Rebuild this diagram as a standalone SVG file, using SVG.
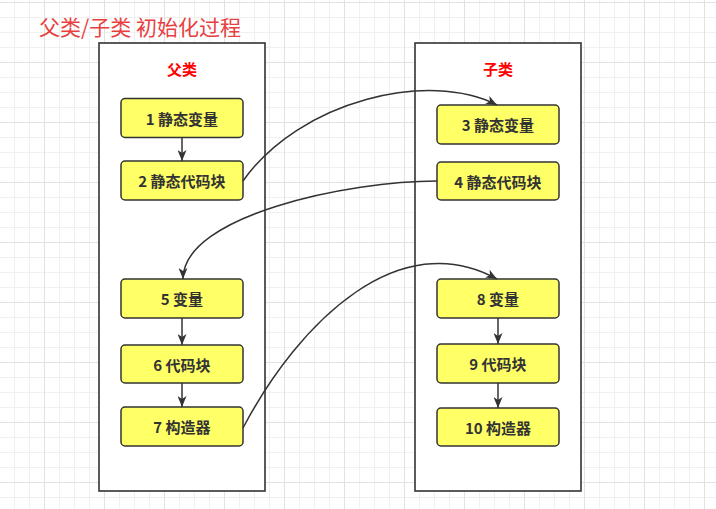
<svg xmlns="http://www.w3.org/2000/svg" width="716" height="509" viewBox="0 0 716 509">
<defs>
<style>
.title{font-family:"Noto Sans CJK SC","Liberation Sans",sans-serif;font-size:21px;fill:#e8403f;}
.cap{font-family:"Noto Sans CJK SC","Liberation Sans",sans-serif;font-size:15px;font-weight:bold;fill:#ff0000;text-anchor:middle;dominant-baseline:central;}
.box{fill:#ffffff;stroke:#333333;stroke-width:1.6;}
.node rect{fill:#ffff66;stroke:#333333;stroke-width:1.5;}
.node text{font-family:"Noto Sans CJK SC","Liberation Sans",sans-serif;font-size:15px;font-weight:bold;fill:#333333;text-anchor:middle;dominant-baseline:central;}
.edge{fill:none;stroke:#333333;stroke-width:1.5;marker-end:url(#arr);}
</style>
<marker id="arr" markerUnits="userSpaceOnUse" viewBox="0 0 11 9" markerWidth="11" markerHeight="9" refX="11" refY="4.5" orient="auto">
<path d="M0,0 L11,4.5 L0,9 L3,4.5 Z" fill="#333333"/>
</marker>
<pattern id="grid" patternUnits="userSpaceOnUse" x="44" y="2" width="60" height="60">
<rect width="60" height="60" fill="#ffffff"/>
<path d="M15.5,0 V60 M30.5,0 V60 M45.5,0 V60 M0,15.5 H60 M0,30.5 H60 M0,45.5 H60" stroke="#f0f0f0" stroke-width="1" fill="none"/>
<path d="M0.5,0 V60 M0,0.5 H60" stroke="#e2e2e2" stroke-width="1" fill="none"/>
</pattern>
</defs>
<rect width="716" height="509" fill="url(#grid)"/>
<text class="title" x="39" y="35">父类/子类 初始化过程</text>
<g id="parent">
<rect class="box" x="99" y="43" width="166" height="448"/>
<text class="cap" x="182" y="68">父类</text>
</g>
<g id="child">
<rect class="box" x="415" y="43" width="166" height="448"/>
<text class="cap" x="498" y="68">子类</text>
</g>
<g id="n1" class="node"><rect x="121" y="98.5" width="122" height="39" rx="4"/><text x="182" y="118">1 静态变量</text></g>
<g id="n2" class="node"><rect x="121" y="161" width="122" height="39" rx="4"/><text x="182" y="180.5">2 静态代码块</text></g>
<g id="n3" class="node"><rect x="437" y="105" width="122" height="39" rx="4"/><text x="498" y="124.5">3 静态变量</text></g>
<g id="n4" class="node"><rect x="437" y="162" width="122" height="38" rx="4"/><text x="498" y="181">4 静态代码块</text></g>
<g id="n5" class="node"><rect x="121" y="279" width="122" height="39" rx="4"/><text x="182" y="298.5">5 变量</text></g>
<g id="n6" class="node"><rect x="121" y="345" width="122" height="38" rx="4"/><text x="182" y="364">6 代码块</text></g>
<g id="n7" class="node"><rect x="121" y="407" width="122" height="39" rx="4"/><text x="182" y="426.5">7 构造器</text></g>
<g id="n8" class="node"><rect x="437" y="279" width="122" height="39" rx="4"/><text x="498" y="298.5">8 变量</text></g>
<g id="n9" class="node"><rect x="437" y="344" width="122" height="39" rx="4"/><text x="498" y="363.5">9 代码块</text></g>
<g id="n10" class="node"><rect x="437" y="408" width="122" height="38" rx="4"/><text x="498" y="427">10 构造器</text></g>
<g id="connectors">
<path class="edge" d="M182,137.5 V161"/>
<path class="edge" d="M182,318 V345"/>
<path class="edge" d="M182,383 V407"/>
<path class="edge" d="M498,318 V344"/>
<path class="edge" d="M498,383 V408"/>
<path class="edge" d="M243,181 C300,100 430,70 497,105"/>
<path class="edge" d="M437,181 C350,181 183,215 183,279"/>
<path class="edge" d="M243,428 C300,320 400,225 497,279"/>
</g>
</svg>
